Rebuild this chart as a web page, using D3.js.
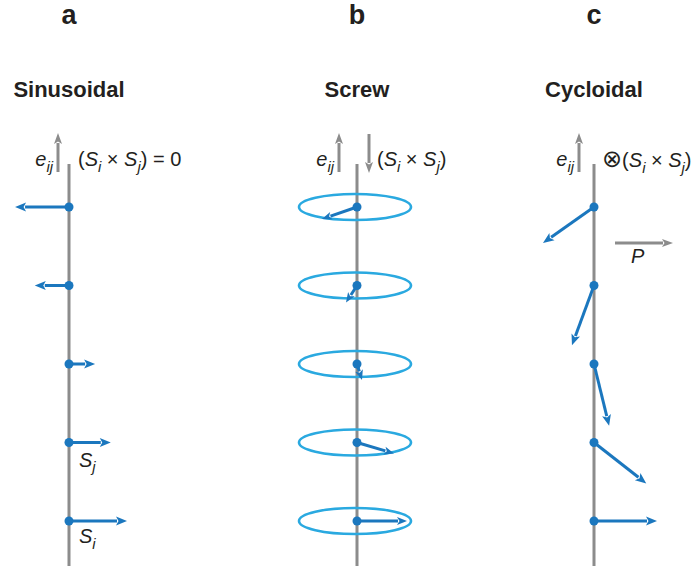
<!DOCTYPE html>
<html><head><meta charset="utf-8">
<script src="https://cdn.jsdelivr.net/npm/d3@7"></script>
<style>html,body{margin:0;padding:0;background:#fff;}svg{display:block;}</style>
</head><body>
<script>
// ---- data ----
const panelKeys = ["a", "b", "c"];
const titles = ["Sinusoidal", "Screw", "Cycloidal"];
const sites = [1, 2, 3, 4, 5];
// Sinusoidal: spin component along propagation-perpendicular axis
const sinSx = [-0.93, -0.59, 0.45, 0.72, 1.0];
// Screw: in-plane (x) and depth (projected) components
const screwSx = [-0.70, -0.22, 0.10, 0.74, 1.0];
const screwSz = [0.24, 0.34, 0.32, 0.22, 0.0];
// Cycloidal: components in the plane of the page
const cycSx = [-0.81, -0.35, 0.24, 0.83, 1.0];
const cycSz = [0.57, 0.95, 0.98, 0.65, 0.0];

const W = 699, H = 572;
const GRAY = "#8c8c8c", BLUE = "#1b77be", RING = "#2aa9e0", TXT = "#231f20";
const FONT = "'Liberation Sans', Arial, Helvetica, sans-serif";

const svg = d3.select("body").append("svg").attr("width", W).attr("height", H)
  .style("font-family", FONT);

const x = d3.scaleOrdinal().domain(panelKeys).range([69, 357, 594]);
const y = d3.scaleLinear().domain([1, 5]).range([207, 521]);
const vA = d3.scaleLinear().domain([0, 1]).range([0, 58]);
const vB = d3.scaleLinear().domain([0, 1]).range([0, 50]);
const vC = d3.scaleLinear().domain([0, 1]).range([0, 63]);

function arrow(g, x1, y1, x2, y2, color, sw, hl, hw) {
  const dx = x2 - x1, dy = y2 - y1, L = Math.hypot(dx, dy);
  const ux = dx / L, uy = dy / L;
  const bx = x2 - ux * hl, by = y2 - uy * hl;
  g.append("line").attr("x1", x1).attr("y1", y1)
    .attr("x2", x2 - ux * (hl - 1)).attr("y2", y2 - uy * (hl - 1))
    .attr("stroke", color).attr("stroke-width", sw);
  const px = -uy, py = ux;
  g.append("path")
    .attr("d", `M${x2},${y2}L${bx + px * hw / 2},${by + py * hw / 2}L${bx + ux*2.5},${by + uy*2.5}L${bx - px * hw / 2},${by - py * hw / 2}Z`)
    .attr("fill", color);
}

function rich(g, xx, yy, segs, size, anchor) {
  const t = g.append("text").attr("x", xx).attr("y", yy)
    .attr("font-size", size).attr("fill", TXT).attr("text-anchor", anchor || "start");
  segs.forEach(s => {
    const ts = t.append("tspan").text(s.t);
    if (s.i) ts.attr("font-style", "italic");
    if (s.sub) ts.attr("font-size", size * 0.74).attr("dy", size * 0.28);
    if (s.back) ts.attr("dy", -size * 0.28);
    if (s.f) ts.attr("font-family", s.f);
    if (s.fs) ts.attr("font-size", s.fs);
  });
  return t;
}

// titles
panelKeys.forEach((k, i) => {
  svg.append("text").attr("x", x(k)).attr("y", 24).attr("text-anchor", "middle")
    .attr("font-size", 27).attr("font-weight", "bold").attr("fill", TXT).text(k);
  svg.append("text").attr("x", x(k)).attr("y", 97).attr("text-anchor", "middle")
    .attr("font-size", 22).attr("font-weight", "bold").attr("fill", TXT).text(titles[i]);
});

// spines
panelKeys.forEach(k => {
  svg.append("line").attr("x1", x(k)).attr("x2", x(k)).attr("y1", 164).attr("y2", 566)
    .attr("stroke", GRAY).attr("stroke-width", 3);
});

// e_ij arrows and labels
const eOff = {a: -11, b: -18, c: -15};
panelKeys.forEach(k => {
  const ax = x(k) + eOff[k];
  arrow(svg, ax, 172, ax, 133, GRAY, 3, 11, 8);
  rich(svg, ax - 5, 166, [{t: "e", i: true}, {t: "ij", i: true, sub: true}], 20, "end");
});
const SxS = [{t: "("}, {t: "S", i: true}, {t: "i", i: true, sub: true}, {t: " × ", back: true},
  {t: "S", i: true}, {t: "j", i: true, sub: true}, {t: ")", back: true}];
rich(svg, x("a") + 9, 166, SxS.concat([{t: " = 0"}]), 20);
arrow(svg, x("b") + 12, 134, x("b") + 12, 173, GRAY, 3, 11, 8);
rich(svg, x("b") + 20, 166, SxS, 20);
rich(svg, x("c") + 8, 167, [{t: "⊗", f: "'DejaVu Sans', sans-serif", fs: 24}].concat(SxS), 20);

// P arrow
arrow(svg, 615, 243, 673, 243, GRAY, 3, 11, 8);
rich(svg, 631, 263, [{t: "P", i: true}], 20);

// ---- panel a: sinusoidal ----
const gA = svg.append("g");
sites.forEach((s, i) => {
  arrow(gA, x("a"), y(s), x("a") + vA(sinSx[i]), y(s), BLUE, 3, 11, 9);
  gA.append("circle").attr("cx", x("a")).attr("cy", y(s)).attr("r", 4.5).attr("fill", BLUE);
});
rich(svg, 79, y(4) + 24, [{t: "S", i: true}, {t: "j", i: true, sub: true}], 20);
rich(svg, 79, y(5) + 22, [{t: "S", i: true}, {t: "i", i: true, sub: true}], 20);

// ---- panel b: screw ----
const gB = svg.append("g");
sites.forEach((s, i) => {
  gB.append("ellipse").attr("cx", x("b") - 2).attr("cy", y(s)).attr("rx", 56).attr("ry", 13)
    .attr("fill", "none").attr("stroke", RING).attr("stroke-width", 2.6);
});
sites.forEach((s, i) => {
  arrow(gB, x("b"), y(s), x("b") + vB(screwSx[i]), y(s) + vB(screwSz[i]), BLUE, 3, 10, 8);
  gB.append("circle").attr("cx", x("b")).attr("cy", y(s)).attr("r", 4.5).attr("fill", BLUE);
});

// ---- panel c: cycloidal ----
const gC = svg.append("g");
sites.forEach((s, i) => {
  arrow(gC, x("c"), y(s), x("c") + vC(cycSx[i]), y(s) + vC(cycSz[i]), BLUE, 3, 11, 9);
  gC.append("circle").attr("cx", x("c")).attr("cy", y(s)).attr("r", 4.5).attr("fill", BLUE);
});
</script>
</body></html>
